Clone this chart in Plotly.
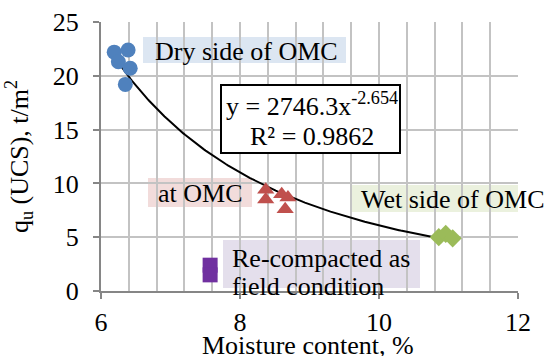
import numpy as np
import plotly.graph_objects as go

# Measured UCS (t/m2) against moisture content (%)
dry_x = [6.19, 6.39, 6.25, 6.42, 6.35]
dry_y = [22.2, 22.4, 21.3, 20.7, 19.2]
omc_x = [8.37, 8.37, 8.60, 8.69, 8.65]
omc_y = [9.4, 8.5, 9.0, 8.7, 7.6]
wet_x = [10.86, 10.96, 11.06]
wet_y = [5.0, 5.3, 4.9]
field_x = [7.57, 7.57]
field_y = [2.4, 1.5]

# Power-law trendline y = a * x^b
fit_a = 2746.3
fit_b = -2.654
fit_r2 = 0.9862
fit_xmin, fit_xmax = 6.2, 11.1

x_ticks = [6, 8, 10, 12]
y_ticks = [0, 5, 10, 15, 20, 25]

W, H = 549, 356
ML, MR, MT, MB = 101, 31, 22, 65
X0, X1, Y0, Y1 = 6, 12, 0, 25
PW, PH = W - ML - MR, H - MT - MB


def dx(px):
    return X0 + (px - ML) / PW * (X1 - X0)


def dy(py):
    return Y0 + (MT + PH - py) / PH * (Y1 - Y0)


FONT = "Liberation Serif"
FS = 26

fig = go.Figure()

fx = np.linspace(fit_xmin, fit_xmax, 200)
fig.add_trace(go.Scatter(x=fx, y=fit_a * fx ** fit_b, mode="lines",
                         line=dict(color="black", width=2), hoverinfo="skip"))

fig.add_trace(go.Scatter(x=dry_x, y=dry_y, mode="markers",
                         marker=dict(symbol="circle", size=15, color="#4f81bd")))
fig.add_trace(go.Scatter(x=omc_x, y=omc_y, mode="markers",
                         marker=dict(symbol="triangle-up", size=15, color="#c0504d")))
fig.add_trace(go.Scatter(x=wet_x, y=wet_y, mode="markers",
                         marker=dict(symbol="diamond", size=14, color="#9bbb59")))
fig.add_trace(go.Scatter(x=field_x, y=field_y, mode="markers",
                         marker=dict(symbol="square", size=15, color="#7030a0")))

shapes = []
annotations = []


def box(x0, x1, y0, y1, fill, border=None):
    shapes.append(dict(type="rect", xref="x", yref="y", layer="below" if border is None else "above",
                       x0=dx(x0), x1=dx(x1), y0=dy(y1), y1=dy(y0),
                       fillcolor=fill,
                       line=dict(width=2 if border else 0, color=border or fill)))


def label(text, px, py, xanchor="center"):
    annotations.append(dict(text=text, x=dx(px), y=dy(py), xref="x", yref="y",
                            showarrow=False, xanchor=xanchor, yanchor="middle",
                            font=dict(family=FONT, size=FS, color="black")))


box(143, 346, 37, 63, "#dce6f2")
label("Dry side of OMC", 246, 51)

box(148, 252, 178, 207, "#f2dcdb")
label("at OMC", 200, 193)

box(352, 549, 185, 212, "#ebf1de")
label("Wet side of OMC", 453, 199)

box(223, 420, 240, 288, "#e4dfec")
label("Re-compacted as", 230, 258, "left")
label("field condition", 230, 286, "left")

box(221, 400, 85, 153, "white", "black")
label(f"y = {fit_a}x<sup>{fit_b}</sup>", 312, 104)
label(f"R² = {fit_r2}", 312, 136)

# x-axis title, placed below the tick labels
annotations.append(dict(text="Moisture content, %", xref="paper", yref="paper",
                        x=(308 - ML) / PW, y=-(346 - (MT + PH)) / PH,
                        xanchor="center", yanchor="middle", showarrow=False,
                        font=dict(family=FONT, size=FS, color="black")))

fig.update_layout(
    width=W, height=H,
    margin=dict(l=ML, r=MR, t=MT, b=MB, autoexpand=False),
    paper_bgcolor="white", plot_bgcolor="white",
    showlegend=False,
    font=dict(family=FONT, size=FS, color="black"),
    shapes=shapes, annotations=annotations,
    xaxis=dict(range=[X0, X1], tickvals=x_ticks, showgrid=True,
               gridcolor="#c3c3c3", gridwidth=1.5, automargin=False,
               minor=dict(dtick=0.4, showgrid=True, gridcolor="#c3c3c3", gridwidth=1.5),
               showline=True, linecolor="#868686", linewidth=2,
               ticks="outside", ticklen=6, tickcolor="#868686", tickwidth=2,
               ticklabelstandoff=1, zeroline=False),
    yaxis=dict(range=[Y0, Y1], tickvals=y_ticks, showgrid=True,
               gridcolor="#c3c3c3", gridwidth=1.5, automargin=False,
               showline=True, linecolor="#868686", linewidth=2,
               ticks="outside", ticklen=6, tickcolor="#868686", tickwidth=2,
               ticklabelstandoff=9, zeroline=False,
               title=dict(text="q<sub>u</sub> (UCS), t/m<sup>2</sup>", standoff=17,
                          font=dict(family=FONT, size=FS))),
)

fig.write_html("out.html")
